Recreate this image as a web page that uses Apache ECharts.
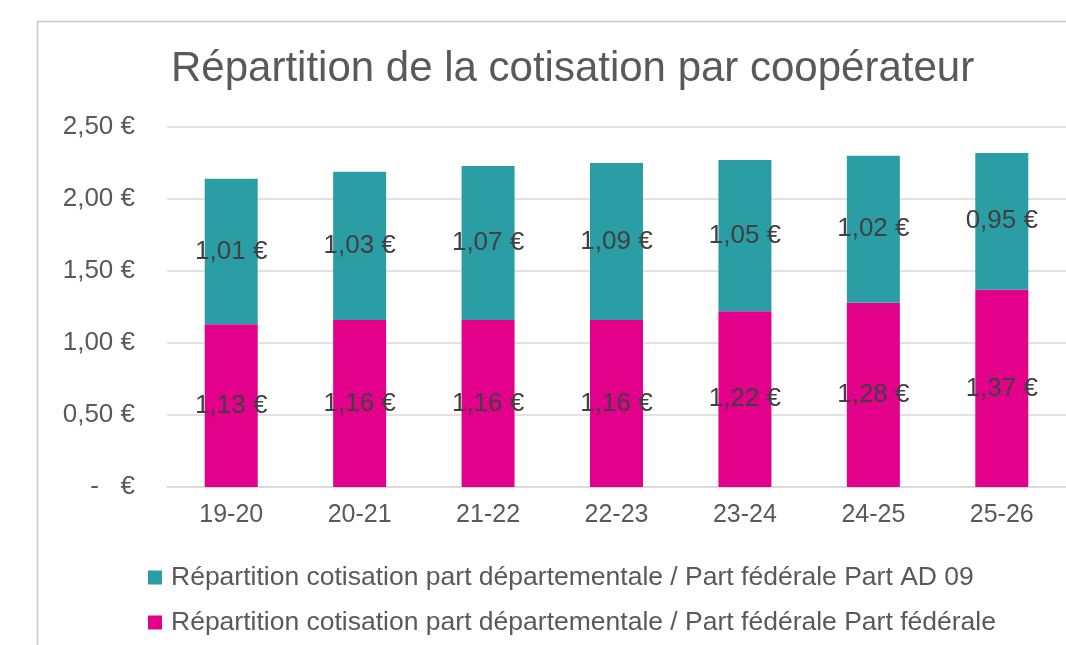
<!DOCTYPE html>
<html>
<head>
<meta charset="utf-8">
<script src="https://cdn.jsdelivr.net/npm/echarts@6/dist/echarts.min.js"></script>
<style>
  html, body { margin: 0; padding: 0; background: #fff; }
  #root { width: 1066px; height: 645px; }
</style>
</head>
<body>
<div id="root"></div>
<script>
const categories = ['19-20', '20-21', '21-22', '22-23', '23-24', '24-25', '25-26'];
const partFederale = [1.13, 1.16, 1.16, 1.16, 1.22, 1.28, 1.37];
const partAD09 = [1.01, 1.03, 1.07, 1.09, 1.05, 1.02, 0.95];
const seriesNames = [
  'Répartition cotisation part départementale / Part fédérale Part AD 09',
  'Répartition cotisation part départementale / Part fédérale Part fédérale'
];

const FONT = '"Liberation Sans", Arial, sans-serif';
const euro = v => v.toFixed(2).replace('.', ',') + ' €';

const container = document.getElementById('root');
const myChart = echarts.init(container);

const labelStyle = {
  show: true,
  position: 'inside',
  color: '#404040',
  fontFamily: FONT,
  fontSize: 26,
  formatter: p => euro(p.value)
};

const option = {
  animation: false,
  textStyle: { fontFamily: FONT },
  graphic: [{
    type: 'rect',
    left: 35,
    top: 19,
    shape: { width: 1100, height: 700 },
    style: { fill: 'none', stroke: '#c8c8c8', lineWidth: 1.5 },
    silent: true
  }],
  title: {
    text: 'Répartition de la cotisation par coopérateur',
    left: 171,
    top: 48,
    padding: 0,
    textStyle: { color: '#595959', fontSize: 42, fontWeight: 'normal', fontFamily: FONT }
  },
  legend: {
    data: seriesNames,
    orient: 'vertical',
    left: 148,
    top: 564,
    padding: 0,
    itemWidth: 14,
    itemHeight: 14,
    itemGap: 18,
    icon: 'rect',
    textStyle: { color: '#595959', fontSize: 26.5, fontFamily: FONT, padding: [0, 0, 0, 4] }
  },
  grid: {
    left: 167,
    top: 127,
    width: 903,
    height: 360,
    containLabel: false
  },
  xAxis: {
    type: 'category',
    data: categories,
    axisLine: { lineStyle: { color: '#d9d9d9', width: 1.5 } },
    axisTick: { show: false },
    axisLabel: { color: '#595959', fontSize: 25, margin: 16, fontFamily: FONT }
  },
  yAxis: {
    type: 'value',
    min: 0,
    max: 2.5,
    interval: 0.5,
    axisLine: { show: false },
    axisTick: { show: false },
    splitLine: { lineStyle: { color: '#d9d9d9', width: 1.5 } },
    axisLabel: {
      color: '#595959',
      fontSize: 26,
      margin: 32,
      fontFamily: FONT,
      formatter: v => v === 0 ? '-   €' : euro(v)
    }
  },
  series: [{
    name: seriesNames[1],
    type: 'bar',
    stack: 'total',
    barWidth: 53,
    data: partFederale,
    itemStyle: { color: '#e3008b' },
    label: labelStyle
  }, {
    name: seriesNames[0],
    type: 'bar',
    stack: 'total',
    barWidth: 53,
    data: partAD09,
    itemStyle: { color: '#2a9ea4' },
    label: labelStyle
  }]
};

myChart.setOption(option);

window.onresize = () => myChart.resize();
</script>
</body>
</html>
